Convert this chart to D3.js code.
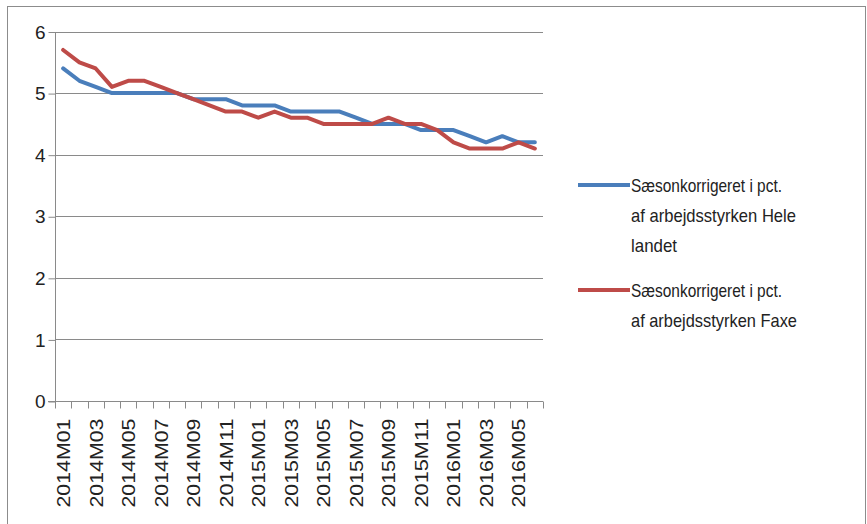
<!DOCTYPE html>
<html><head><meta charset="utf-8">
<script src="https://cdn.jsdelivr.net/npm/d3@7"></script>
<style>body{margin:0;background:#fff}svg{display:block}</style>
</head><body>
<script>
const categories = ["2014M01","2014M02","2014M03","2014M04","2014M05","2014M06","2014M07","2014M08","2014M09","2014M10","2014M11","2014M12",
"2015M01","2015M02","2015M03","2015M04","2015M05","2015M06","2015M07","2015M08","2015M09","2015M10","2015M11","2015M12",
"2016M01","2016M02","2016M03","2016M04","2016M05","2016M06"];
const heleLandet = [5.4,5.2,5.1,5.0,5.0,5.0,5.0,5.0,4.9,4.9,4.9,4.8,4.8,4.8,4.7,4.7,4.7,4.7,4.6,4.5,4.5,4.5,4.4,4.4,4.4,4.3,4.2,4.3,4.2,4.2];
const faxe = [5.7,5.5,5.4,5.1,5.2,5.2,5.1,5.0,4.9,4.8,4.7,4.7,4.6,4.7,4.6,4.6,4.5,4.5,4.5,4.5,4.6,4.5,4.5,4.4,4.2,4.1,4.1,4.1,4.2,4.1];
const yTicks = [0,1,2,3,4,5,6];
const seriesNames = [["Sæsonkorrigeret i pct.","af arbejdsstyrken Hele","landet"],["Sæsonkorrigeret i pct.","af arbejdsstyrken Faxe"]];
const colors = ["#4A7EBB","#BE4B48"];

(function(){
const W=867,H=524;
const svg=d3.select("body").append("svg").attr("width",W).attr("height",H);
svg.append("rect").attr("x",7.5).attr("y",6.5).attr("width",858).attr("height",540)
  .attr("fill","#fff").attr("stroke","#8c8c8c").attr("stroke-width",1);

const pLeft=55,pRight=543,pTop=31.5,pBottom=401;
const x=d3.scaleBand().domain(categories).range([pLeft,pRight]);
const y=d3.scaleLinear().domain([0,6]).range([pBottom,pTop]);

// gridlines
svg.append("g").selectAll("line").data(yTicks.filter(d=>d>0)).join("line")
  .attr("x1",pLeft).attr("x2",pRight).attr("y1",d=>Math.round(y(d))+0.5).attr("y2",d=>Math.round(y(d))+0.5)
  .attr("stroke","#8a8a8a").attr("stroke-width",1);

// y axis
const ya=svg.append("g").attr("transform",`translate(${pLeft+0.5},0.5)`)
  .call(d3.axisLeft(y).tickValues(yTicks).tickSize(7).tickPadding(4).tickFormat(d3.format("d")));
ya.select(".domain").attr("stroke","#8a8a8a").attr("d",`M0,${pTop}V${pBottom}`);
ya.selectAll(".tick line").attr("stroke","#8a8a8a");
ya.selectAll(".tick text").attr("font-family","Liberation Sans, Arial, sans-serif").attr("font-size",19).attr("fill","#222").attr("x",-10);

// x axis
const xa=svg.append("g").attr("transform",`translate(0,${Math.round(pBottom)+0.5})`);
xa.append("line").attr("x1",pLeft-7).attr("x2",pRight).attr("stroke","#8a8a8a");
const bounds=categories.map(c=>x(c)).concat([x(categories[categories.length-1])+x.bandwidth()]);
xa.selectAll("line.tk").data(bounds).join("line").attr("class","tk")
  .attr("x1",d=>Math.round(d)+0.5).attr("x2",d=>Math.round(d)+0.5).attr("y1",0).attr("y2",7).attr("stroke","#8a8a8a");
xa.selectAll("text").data(categories.filter((c,i)=>i%2===0)).join("text")
  .attr("transform",d=>`translate(${x(d)+x.bandwidth()/2},17) rotate(-90)`)
  .attr("text-anchor","end").attr("dy","0.36em")
  .attr("font-family","Liberation Sans, Arial, sans-serif").attr("font-size",19).attr("fill","#222")
  .attr("textLength",89).attr("lengthAdjust","spacingAndGlyphs")
  .text(d=>d);

// lines
const line=d3.line().x((d,i)=>x(categories[i])+x.bandwidth()/2).y(d=>y(d)).curve(d3.curveLinear);
[heleLandet,faxe].forEach((s,k)=>{
  svg.append("path").datum(s).attr("d",line).attr("fill","none").attr("stroke",colors[k])
    .attr("stroke-width",4).attr("stroke-linejoin","round").attr("stroke-linecap","round");
});

// legend
const legY=[185,290];
const widths=[[151,165,46],[151,166]];
seriesNames.forEach((lines,k)=>{
  const g=svg.append("g");
  g.append("line").attr("x1",578).attr("x2",630).attr("y1",legY[k]).attr("y2",legY[k])
    .attr("stroke",colors[k]).attr("stroke-width",4);
  lines.forEach((t,j)=>{
    g.append("text").attr("x",631).attr("y",legY[k]+7+j*30)
      .attr("font-family","Liberation Sans, Arial, sans-serif").attr("font-size",19).attr("fill","#222")
      .attr("textLength",widths[k][j]).attr("lengthAdjust","spacingAndGlyphs").text(t);
  });
});
})();
</script>
</body></html>
